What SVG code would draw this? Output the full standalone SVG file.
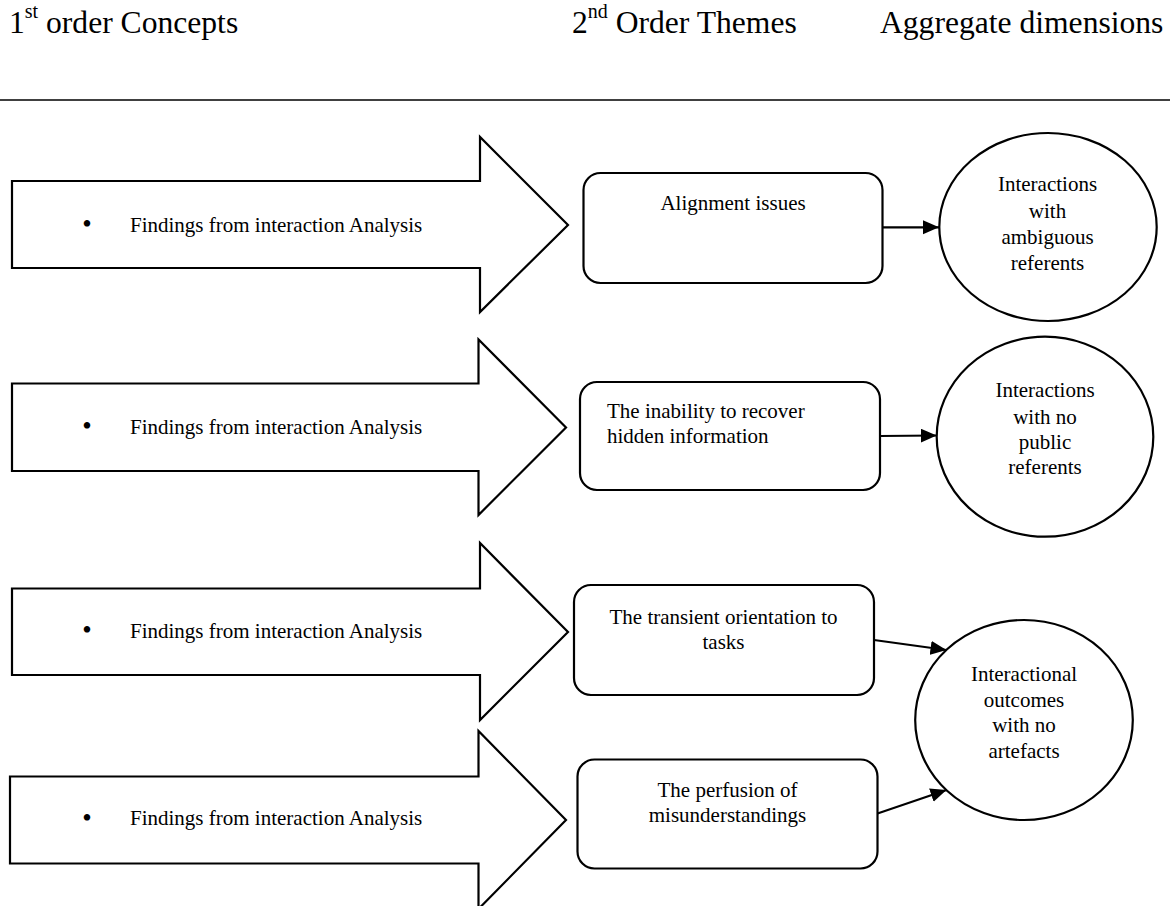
<svg xmlns="http://www.w3.org/2000/svg" width="1170" height="906" viewBox="0 0 1170 906">
  <style>
    text { font-family: "Liberation Serif", Tinos, "Times New Roman", Times, "DejaVu Serif", serif; fill: #000; }
    .hdr { font-size: 31.6px; }
    .txt { font-size: 21px; }
    .bullet { font-size: 27px; text-anchor: middle; }
    .mid { text-anchor: middle; }
    .shape { fill: #fff; stroke: #000; stroke-width: 2.2; stroke-linejoin: miter; }
    .conn { fill: none; stroke: #000; stroke-width: 2.2; }
  </style>
  <defs>
    <marker id="arrowhead" markerUnits="userSpaceOnUse" markerWidth="17" markerHeight="15" refX="16" refY="7" orient="auto">
      <path d="M0,0 L16,7 L0,14 z" fill="#000"/>
    </marker>
  </defs>

  <rect x="0" y="0" width="1170" height="906" fill="#fff"/>

  <!-- column headings -->
  <g id="headings">
    <text class="hdr" x="9" y="32.5">1<tspan font-size="20" dy="-15">st</tspan><tspan dy="15"> order Concepts</tspan></text>
    <text class="hdr" x="572" y="32.5">2<tspan font-size="20" dy="-15">nd</tspan><tspan dy="15"> Order Themes</tspan></text>
    <text class="hdr" x="880" y="32.5">Aggregate dimensions</text>
    <line x1="0" y1="100" x2="1170" y2="100" stroke="#000" stroke-width="1.5"/>
  </g>

  <!-- 1st order concepts: block arrows -->
  <g id="concept-1">
    <polygon class="shape" points="12,181 480,181 480,137 568,225 480,312 480,268 12,268"/>
    <text class="bullet" x="87" y="233">•</text>
    <text class="txt" x="130" y="231.5">Findings from interaction Analysis</text>
  </g>
  <g id="concept-2">
    <polygon class="shape" points="12,383.5 478.5,383.5 478.5,339.5 566,427.5 478.5,515 478.5,471 12,471"/>
    <text class="bullet" x="87" y="435">•</text>
    <text class="txt" x="130" y="433.5">Findings from interaction Analysis</text>
  </g>
  <g id="concept-3">
    <polygon class="shape" points="12,588.5 480,588.5 480,543 568,632 480,720 480,675 12,675"/>
    <text class="bullet" x="87" y="639">•</text>
    <text class="txt" x="130" y="637.5">Findings from interaction Analysis</text>
  </g>
  <g id="concept-4">
    <polygon class="shape" points="10,776.5 478.5,776.5 478.5,731 566,820 478.5,909 478.5,863.5 10,863.5"/>
    <text class="bullet" x="87" y="826.5">•</text>
    <text class="txt" x="130" y="825">Findings from interaction Analysis</text>
  </g>

  <!-- 2nd order themes -->
  <g id="theme-alignment">
    <rect class="shape" x="583.5" y="173" width="299" height="110" rx="17" ry="17"/>
    <text class="txt mid" x="733" y="209.5">Alignment issues</text>
  </g>
  <g id="theme-hidden-information">
    <rect class="shape" x="580" y="382" width="300" height="108" rx="17" ry="17"/>
    <text class="txt" x="607" y="417.5">The inability to recover</text>
    <text class="txt" x="607" y="442.5">hidden information</text>
  </g>
  <g id="theme-transient-orientation">
    <rect class="shape" x="574" y="585" width="300" height="110" rx="17" ry="17"/>
    <text class="txt mid" x="723.5" y="623.5">The transient orientation to</text>
    <text class="txt mid" x="723.5" y="648.5">tasks</text>
  </g>
  <g id="theme-misunderstandings">
    <rect class="shape" x="577.5" y="759.5" width="300" height="109" rx="17" ry="17"/>
    <text class="txt mid" x="727.5" y="797">The perfusion of</text>
    <text class="txt mid" x="727.5" y="822">misunderstandings</text>
  </g>

  <!-- aggregate dimensions -->
  <g id="dimension-ambiguous-referents">
    <ellipse class="shape" cx="1048" cy="227" rx="108.7" ry="94"/>
    <text class="txt mid" x="1047.5" y="191">Interactions</text>
    <text class="txt mid" x="1047.5" y="217.5">with</text>
    <text class="txt mid" x="1047.5" y="243.5">ambiguous</text>
    <text class="txt mid" x="1047.5" y="269.5">referents</text>
  </g>
  <g id="dimension-no-public-referents">
    <ellipse class="shape" cx="1045" cy="436.7" rx="108.3" ry="100"/>
    <text class="txt mid" x="1045" y="397">Interactions</text>
    <text class="txt mid" x="1045" y="423.5">with no</text>
    <text class="txt mid" x="1045" y="448.5">public</text>
    <text class="txt mid" x="1045" y="474">referents</text>
  </g>
  <g id="dimension-no-artefacts">
    <ellipse class="shape" cx="1024" cy="720" rx="108.8" ry="100"/>
    <text class="txt mid" x="1024" y="681">Interactional</text>
    <text class="txt mid" x="1024" y="707">outcomes</text>
    <text class="txt mid" x="1024" y="732">with no</text>
    <text class="txt mid" x="1024" y="757.5">artefacts</text>
  </g>

  <!-- connectors from themes to dimensions -->
  <g id="connectors">
    <line class="conn" x1="882.5" y1="227.3" x2="939" y2="227.3" marker-end="url(#arrowhead)"/>
    <line class="conn" x1="880" y1="436" x2="936.7" y2="435.5" marker-end="url(#arrowhead)"/>
    <line class="conn" x1="874" y1="640" x2="946.5" y2="650" marker-end="url(#arrowhead)"/>
    <line class="conn" x1="877.5" y1="813.5" x2="946.5" y2="790" marker-end="url(#arrowhead)"/>
  </g>
</svg>
